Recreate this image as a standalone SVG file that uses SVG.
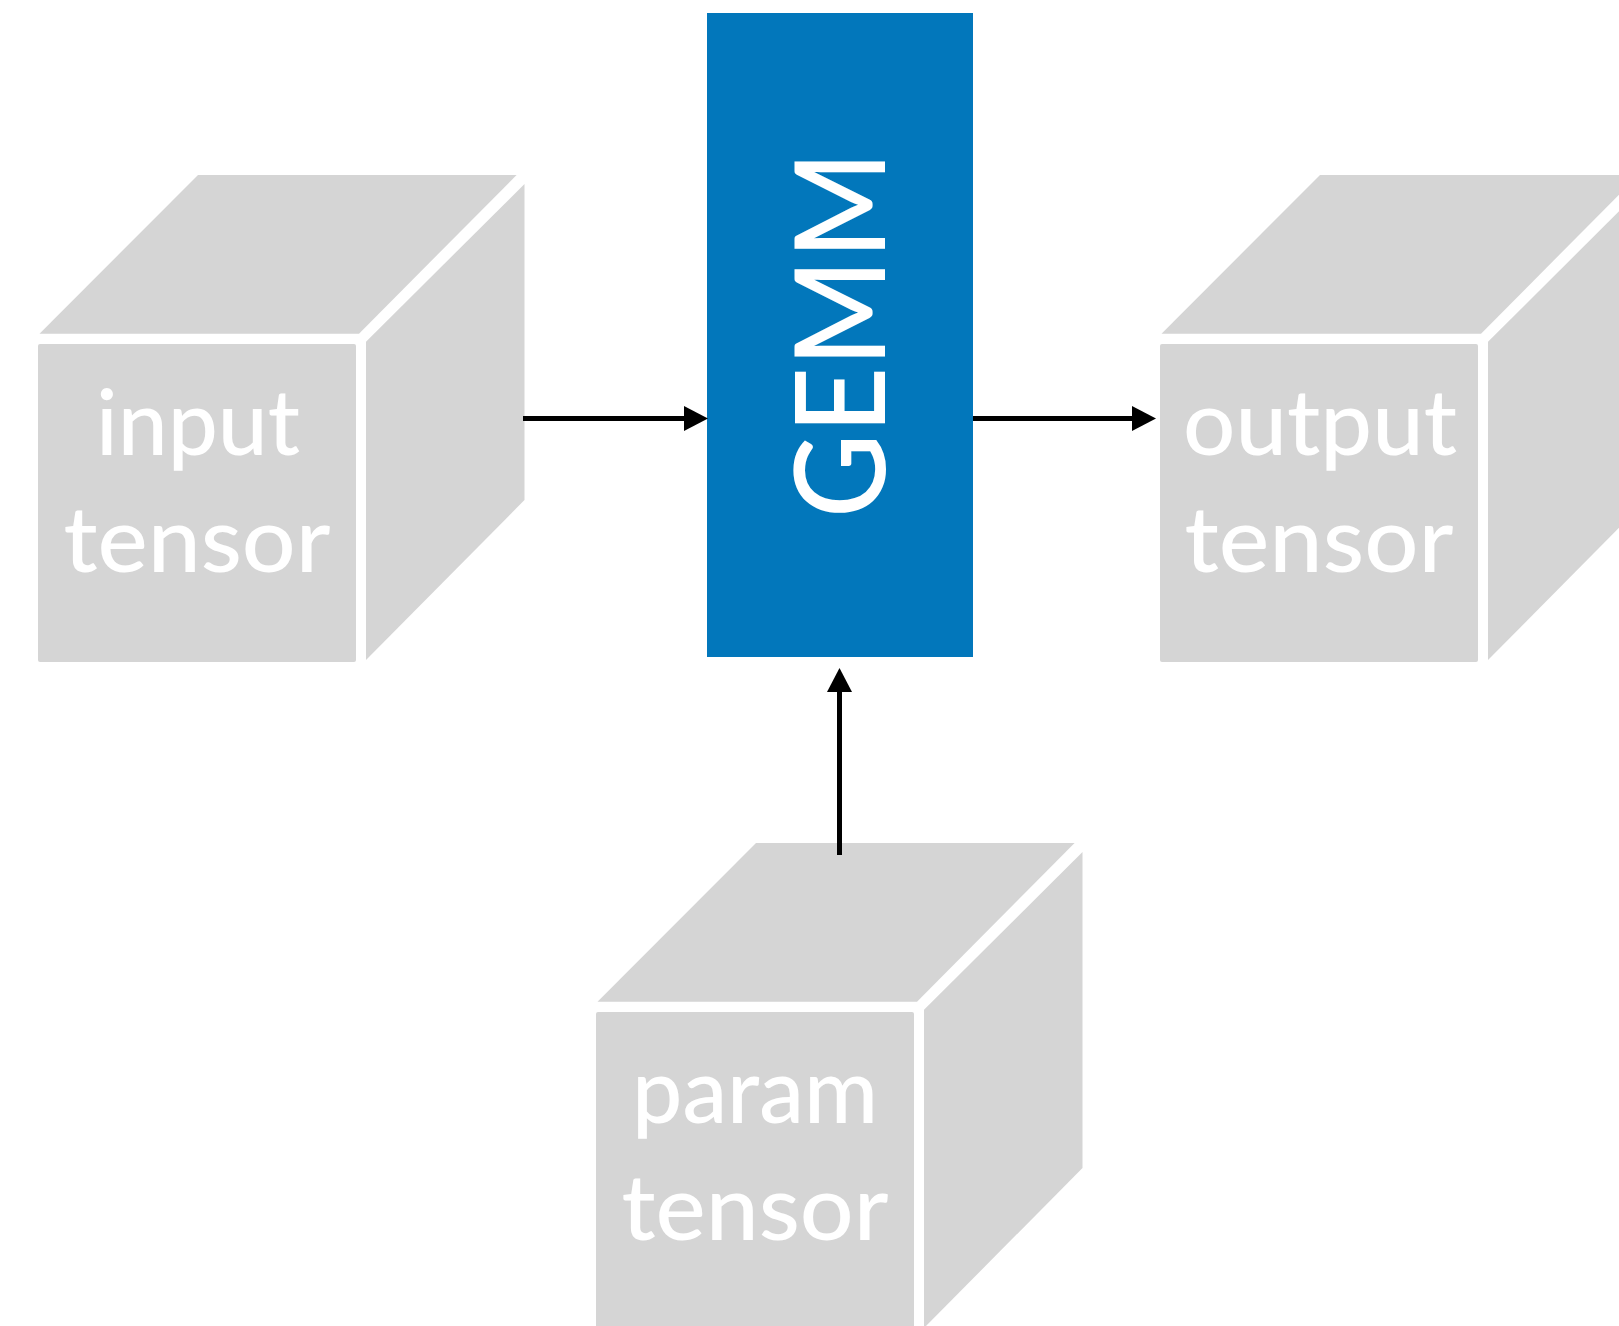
<svg xmlns="http://www.w3.org/2000/svg" xmlns:xlink="http://www.w3.org/1999/xlink" width="1619" height="1326" viewBox="0 0 1619 1326">
  <style>
    .face { fill: #d5d5d5; }
    .label { font-family: Lato, "Open Sans", "Liberation Sans", sans-serif; font-weight: 500; font-size: 90px; fill: #ffffff; text-anchor: middle; }
    .op { fill: #0277bb; }
    .op-label { font-family: Lato, "Open Sans", "Liberation Sans", sans-serif; font-weight: 500; font-size: 126px; fill: #ffffff; text-anchor: middle; }
    .wire { stroke: #000000; stroke-width: 5; fill: none; marker-end: url(#head); }
  </style>
  <defs>
    <!-- exploded cube: front face origin at (0,0), faces separated by white gaps -->
    <g id="cube">
      <polygon class="face" points="1.5,-10.3 160,-169 478.6,-169 321,-10.3"/>
      <rect class="face" x="0" y="0" width="318" height="318" rx="2"/>
      <polygon class="face" points="328,-2.3 486.5,-160 486.5,156 328,316"/>
    </g>
    <marker id="head" markerUnits="userSpaceOnUse" viewBox="0 0 24 25" markerWidth="24" markerHeight="25" refX="0" refY="12.5" orient="auto">
      <path d="M0,0 L24,12.5 L0,25 Z" fill="#000000"/>
    </marker>
  </defs>

  <g id="gemm">
    <rect class="op" x="707" y="13" width="266" height="644"/>
    <text class="op-label" transform="translate(885,334.5) rotate(-90)" x="0" y="0" textLength="367" lengthAdjust="spacingAndGlyphs">GEMM</text>
  </g>

  <g id="input-tensor" transform="translate(38,344)">
    <use xlink:href="#cube" href="#cube"/>
    <text class="label" x="160" y="111" textLength="204" lengthAdjust="spacingAndGlyphs">input</text>
    <text class="label" x="159" y="228" textLength="267" lengthAdjust="spacingAndGlyphs">tensor</text>
  </g>

  <g id="output-tensor" transform="translate(1160,344)">
    <use xlink:href="#cube" href="#cube"/>
    <text class="label" x="160" y="111" textLength="274" lengthAdjust="spacingAndGlyphs">output</text>
    <text class="label" x="159" y="228" textLength="269" lengthAdjust="spacingAndGlyphs">tensor</text>
  </g>

  <g id="param-tensor" transform="translate(596,1012)">
    <use xlink:href="#cube" href="#cube"/>
    <text class="label" x="159" y="111" textLength="246" lengthAdjust="spacingAndGlyphs">param</text>
    <text class="label" x="159" y="228" textLength="267" lengthAdjust="spacingAndGlyphs">tensor</text>
  </g>

  <g id="connectors">
    <path class="wire" d="M523,418.5 H684"/>
    <path class="wire" d="M973,418.5 H1132"/>
    <path class="wire" d="M839.5,855 V692"/>
  </g>
</svg>
